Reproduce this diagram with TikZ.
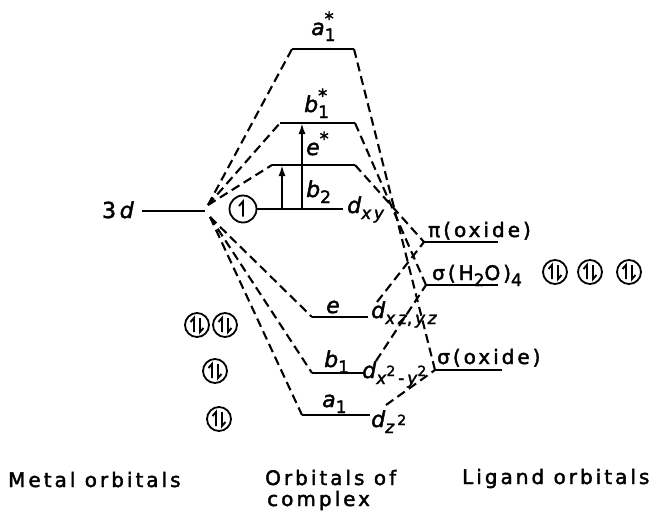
\documentclass[tikz,border=0pt]{standalone}
\usepackage{fontspec}
\setmainfont[FakeBold=2]{DejaVu Sans}
\newfontfamily\spfont[LetterSpace=15, FakeBold=2]{DejaVu Sans}
\usetikzlibrary{arrows.meta}
\newcommand\lsub[1]{\raisebox{-6pt}{\fontsize{17}{17}\selectfont #1}}
\newcommand\lsupr[1]{\raisebox{10pt}{\fontsize{18}{18}\selectfont #1}}
\newcommand\esup[1]{\raisebox{8pt}{\fontsize{14}{14}\selectfont #1}}
\begin{document}
\begin{tikzpicture}[x=1pt,y=-1pt,
  level/.style={line width=2.8pt},
  conn/.style={line width=2.1pt, dash pattern=on 9pt off 5pt},
  trans/.style={line width=2pt, -{Latex[length=11pt,width=7pt]}},
  lab/.style={inner sep=0pt, font=\fontsize{22}{24}\selectfont},
  txt/.style={inner sep=0pt, font=\fontsize{20}{22}\selectfont\spfont},
  ecirc/.style={circle, draw, line width=1.8pt, minimum size=24pt, inner sep=0pt},
  glyph/.style={line width=1.9pt}]
\useasboundingbox (0,0) rectangle (655,511);

% ---------- level end points ----------
\coordinate (m3dL) at (142,211);   \coordinate (m3dR) at (205,211);
\coordinate (mU) at (208,205);     \coordinate (mD) at (210,217);
\coordinate (a1sL) at (292,49);    \coordinate (a1sR) at (354,49);
\coordinate (b1sL) at (280,123);   \coordinate (b1sR) at (355,123);
\coordinate (esL) at (272,165);    \coordinate (esR) at (355,165);
\coordinate (b2L) at (256,209);    \coordinate (b2R) at (343,209);
\coordinate (eL) at (312,317);     \coordinate (eR) at (368,317);
\coordinate (b1L) at (312,373);    \coordinate (b1R) at (363,373);
\coordinate (a1L) at (302,415);    \coordinate (a1R) at (370,415);
\coordinate (piL) at (424,242);    \coordinate (piR) at (498,242);
\coordinate (sgL) at (426,285);    \coordinate (sgR) at (498,285);
\coordinate (soL) at (435,370);    \coordinate (soR) at (502,370);
\coordinate (eC) at (377,302);
\coordinate (b1C) at (376,361);
\coordinate (a1C) at (386,405);

% ---------- levels ----------
\foreach \l in {m3d,a1s,b1s,es,b2,e,b1,a1,pi,sg,so}
  \draw[level] (\l L) -- (\l R);

% ---------- correlation lines ----------
\draw[conn] (mU) -- (a1sL);
\draw[conn] (mU) -- (b1sL);
\draw[conn] (mU) -- (esL);
\draw[conn] (mD) -- (eL);
\draw[conn] (mD) -- (b1L);
\draw[conn] (mD) -- (a1L);
\draw[conn] (a1sR) -- (soL);
\draw[conn] (b1sR) -- (sgL);
\draw[conn] (esR) -- (piL);
\draw[conn] (eC) -- (piL);
\draw[conn] (b1C) -- (sgL);
\draw[conn] (a1C) -- (soL);

% ---------- transitions ----------
\coordinate (t1s) at (282,209); \coordinate (t1e) at (282,165);
\coordinate (t2s) at (302,209); \coordinate (t2e) at (302,123);
\draw[trans] (t1s) -- (t1e);
\draw[trans] (t2s) -- (t2e);

% ---------- electron circles ----------
\node[ecirc, minimum size=27pt] (one) at (243,209) {};
\draw[glyph] ([shift={(0,7.5)}]one.center) -- ([shift={(0,-7.5)}]one.center) -- ([shift={(-4,-3)}]one.center);

\foreach \n/\p in {p1/{197,325}, p2/{225,325}, p3/{215,371}, p4/{219,419},
                   p5/{555,272}, p6/{590,272}, p7/{629,272}} {
  \node[ecirc] (\n) at (\p) {};
  \draw[glyph] ([shift={(-3,7)}]\n.center) -- ([shift={(-3,-7)}]\n.center) -- ([shift={(-6.5,-3)}]\n.center);
  \draw[glyph] ([shift={(3,-7)}]\n.center) -- ([shift={(3,7)}]\n.center) -- ([shift={(6.5,3)}]\n.center);
}

% ---------- labels ----------
\node[lab, anchor=base east] (l3d) at (134,218) {3\,\textit{d}};
\node[lab, anchor=base west] (la1s) at (311,35) {\textit{a}\rlap{\lsub{1}}\lsupr{*}};
\node[lab, anchor=base west] (lb1s) at (304,112) {\textit{b}\rlap{\lsub{1}}\lsupr{*}};
\node[lab, anchor=base west] (les) at (306,155) {\textit{e}\lsupr{*}};
\node[lab, anchor=base west] (lb2) at (306,197) {\textit{b}\lsub{2}};
\node[lab, anchor=base west] (ldxy) at (347,213) {\textit{d}\lsub{\spfont\textit{xy}}};
\node[lab, anchor=base west] (le) at (326,313) {\textit{e}};
\node[lab, anchor=base west] (ldxz) at (371,318) {\textit{d}\lsub{\spfont\textit{xz},\,\textit{yz}}};
\node[lab, anchor=base west] (lb1) at (324,367) {\textit{b}\lsub{1}};
\node[lab, anchor=base west] (ldx2) at (362,378) {\textit{d}\lsub{\textit{x}\esup{2}\,-\,\textit{y}\esup{2}}};
\node[lab, anchor=base west] (la1) at (322,407) {\textit{a}\lsub{1}};
\node[lab, anchor=base west] (ldz2) at (371,427) {\textit{d}\lsub{\textit{z}\,\esup{2}}};

\node[txt, anchor=base west] (lpi) at (428,237) {π(oxide)};
\node[txt, anchor=base west] (lsg) at (432,280) {σ(H\lsub{2}O)\lsub{4}};
\node[txt, anchor=base west] (lso) at (437,364) {σ(oxide)};

\node[txt, anchor=base west] (tm) at (8,487) {Metal orbitals};
\node[txt, anchor=base west] (tc1) at (265,485) {Orbitals of};
\node[txt, anchor=base west] (tc2) at (267,506) {complex};
\node[txt, anchor=base west] (tl) at (462,484) {Ligand orbitals};
\end{tikzpicture}
\end{document}
